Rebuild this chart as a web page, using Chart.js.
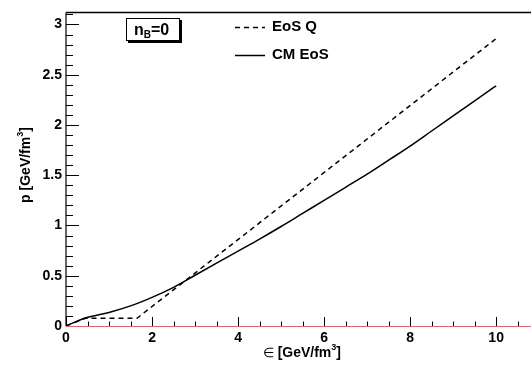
<!DOCTYPE html>
<html><head><meta charset="utf-8">
<script src="https://cdn.jsdelivr.net/npm/chart.js@4/dist/chart.umd.min.js"></script>
<style>html,body{margin:0;padding:0;background:#fff}</style>
</head><body>
<canvas id="c" width="531" height="365"></canvas>
<script>
// Energy density (GeV/fm^3) and pressure (GeV/fm^3)
const eosQEnergy   = [0, 0.45, 1.65, 10.0];
const eosQPressure = [0, 0.077, 0.077, 2.86];
const cmEnergy   = [0, 0.45, 1.0, 1.5, 2.0, 2.5, 3.0, 3.5, 4.0, 4.5, 5.0, 5.5, 6.0, 6.5, 7.0, 7.5, 8.0, 8.5, 9.0, 9.5, 10.0];
const cmPressure = [0, 0.08, 0.135, 0.20, 0.285, 0.385, 0.505, 0.625, 0.745, 0.865, 0.99, 1.12, 1.25, 1.38, 1.51, 1.65, 1.79, 1.94, 2.09, 2.24, 2.39];
const seriesLabels = ["EoS Q", "CM EoS"];
const xTitle = "[GeV/fm";
const xSymbol = "\u2208";
const yTitle = "p [GeV/fm";
const boxLabel = ["n", "B", "=0"];

const FONT = "'Liberation Sans', Arial, sans-serif";

const toPts = (xs, ys) => xs.map((x, i) => ({x: x, y: ys[i]}));

const decor = {
  id: 'decor',
  afterDraw(chart) {
    const ctx = chart.ctx, a = chart.chartArea;
    const xs = chart.scales.x, ys = chart.scales.y;
    ctx.save();
    // frame
    ctx.strokeStyle = '#000'; ctx.lineWidth = 1.5;
    ctx.beginPath(); ctx.moveTo(a.left, a.top); ctx.lineTo(a.right, a.top); ctx.stroke();
    ctx.lineWidth = 1.2;
    ctx.beginPath(); ctx.moveTo(a.left, a.top); ctx.lineTo(a.left, a.bottom); ctx.stroke();
    // y ticks
    ctx.lineWidth = 1;
    for (let i = 0; i <= 31; i++) {
      const v = i / 10;
      const p = Math.round(ys.getPixelForValue(v)) + 0.5;
      const len = (i % 5 === 0) ? 13 : 7;
      ctx.beginPath(); ctx.moveTo(a.left, p); ctx.lineTo(a.left + len, p); ctx.stroke();
    }
    // x ticks
    for (let i = 0; i <= 21; i++) {
      const v = i * 0.5;
      const p = Math.round(xs.getPixelForValue(v)) + 0.5;
      const len = (i % 4 === 0) ? 9 : 4.5;
      ctx.beginPath(); ctx.moveTo(p, a.bottom); ctx.lineTo(p, a.bottom - len); ctx.stroke();
    }
    // bottom axis line (reddish)
    ctx.strokeStyle = '#d66'; ctx.lineWidth = 1;
    ctx.beginPath(); ctx.moveTo(a.left, a.bottom + 0.5); ctx.lineTo(a.right, a.bottom + 0.5); ctx.stroke();

    ctx.fillStyle = '#000';
    ctx.textBaseline = 'alphabetic';
    // x title
    ctx.font = '13px ' + FONT;
    const ws = ctx.measureText(xSymbol + ' ').width;
    ctx.font = 'bold 14px ' + FONT;
    const w1 = ctx.measureText(xTitle).width;
    ctx.font = 'bold 9px ' + FONT;
    const w3 = ctx.measureText('3').width;
    ctx.font = 'bold 14px ' + FONT;
    const wb = ctx.measureText(']').width;
    let tx = 302 - (ws + w1 + w3 + wb) / 2, ty = 357;
    ctx.font = '13px ' + FONT; ctx.fillText(xSymbol, tx, ty);
    tx += ws;
    ctx.font = 'bold 14px ' + FONT; ctx.fillText(xTitle, tx, ty);
    ctx.font = 'bold 9px ' + FONT; ctx.fillText('3', tx + w1, ty - 7);
    ctx.font = 'bold 14px ' + FONT; ctx.fillText(']', tx + w1 + w3, ty);
    // y title
    ctx.save();
    ctx.translate(30, 165); ctx.rotate(-Math.PI / 2);
    ctx.font = 'bold 14px ' + FONT;
    const v1 = ctx.measureText(yTitle).width;
    let ux = -(v1 + w3 + wb) / 2;
    ctx.fillText(yTitle, ux, 0);
    ctx.font = 'bold 9px ' + FONT; ctx.fillText('3', ux + v1, -7);
    ctx.font = 'bold 14px ' + FONT; ctx.fillText(']', ux + v1 + w3, 0);
    ctx.restore();

    // n_B = 0 box with shadow
    ctx.fillStyle = '#000';
    ctx.fillRect(128, 20, 54, 23);
    ctx.fillStyle = '#fff';
    ctx.fillRect(126, 18, 54, 23);
    ctx.strokeStyle = '#000'; ctx.lineWidth = 1;
    ctx.strokeRect(126.5, 18.5, 53, 22);
    ctx.fillStyle = '#000';
    ctx.font = 'bold 16px ' + FONT;
    let bx = 134, by = 35;
    ctx.fillText(boxLabel[0], bx, by);
    bx += ctx.measureText(boxLabel[0]).width;
    ctx.font = 'bold 10px ' + FONT;
    ctx.fillText(boxLabel[1], bx, by + 3);
    bx += ctx.measureText(boxLabel[1]).width;
    ctx.font = 'bold 16px ' + FONT;
    ctx.fillText(boxLabel[2], bx, by);

    // legend
    const ds = chart.data.datasets;
    const rows = [27, 55];
    ds.forEach((d, i) => {
      ctx.strokeStyle = '#000'; ctx.lineWidth = 1.5;
      ctx.setLineDash(d.borderDash || []);
      ctx.beginPath(); ctx.moveTo(235, rows[i] + 0.5); ctx.lineTo(265, rows[i] + 0.5); ctx.stroke();
      ctx.setLineDash([]);
      ctx.font = 'bold 15px ' + FONT;
      ctx.textBaseline = 'middle';
      ctx.fillText(d.label, 272, rows[i]);
    });
    ctx.restore();
  }
};

new Chart(document.getElementById('c'), {
  type: 'line',
  data: {
    datasets: [
      { label: seriesLabels[0], data: toPts(eosQEnergy, eosQPressure), borderColor: '#000', borderWidth: 1.5, borderDash: [5, 4], pointRadius: 0, tension: 0, fill: false },
      { label: seriesLabels[1], data: toPts(cmEnergy, cmPressure), borderColor: '#000', borderWidth: 1.5, pointRadius: 0, cubicInterpolationMode: 'monotone', fill: false }
    ]
  },
  options: {
    responsive: false,
    animation: false,
    devicePixelRatio: 1,
    layout: { padding: { top: 4, right: 0, left: 0, bottom: 0 } },
    plugins: { legend: { display: false }, tooltip: { enabled: false } },
    scales: {
      x: {
        type: 'linear', min: 0, max: 10.81,
        grid: { display: false, drawTicks: false }, border: { display: false },
        ticks: { stepSize: 2, includeBounds: false, color: '#000', padding: 4, maxRotation: 0,
                 callback: v => String(v),
                 font: { family: FONT, weight: 'bold', size: 14 } },
        afterFit: s => { s.height = 39; }
      },
      y: {
        type: 'linear', min: 0, max: 3.12,
        grid: { display: false, drawTicks: false }, border: { display: false },
        ticks: { stepSize: 0.5, includeBounds: false, color: '#000', padding: 4,
                 callback: v => String(v),
                 font: { family: FONT, weight: 'bold', size: 14 } },
        afterFit: s => { s.width = 66; }
      }
    }
  },
  plugins: [decor]
});
</script>
</body></html>
